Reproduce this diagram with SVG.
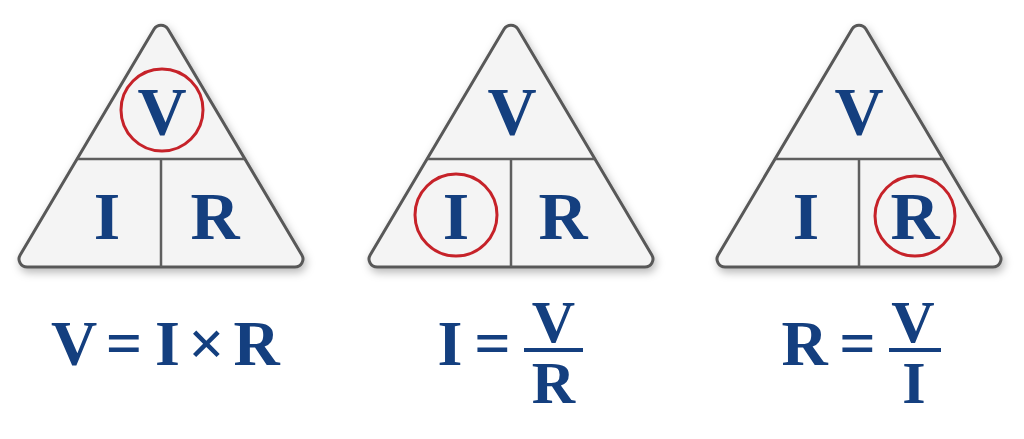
<svg xmlns="http://www.w3.org/2000/svg" width="1024" height="439" viewBox="0 0 1024 439">
<style>
.tri{fill:#f4f4f4;stroke:#585858;stroke-width:3;filter:url(#sh)}
.div{stroke:#5e5e5e;stroke-width:2.5;fill:none}
.lt{font-family:"Liberation Serif","Times New Roman",serif;font-weight:bold;fill:#143f7f;text-anchor:middle}
.big{font-size:68px}
.eq{font-size:64px}
.fr{font-size:60px}
.ring{fill:none;stroke:#c62229;stroke-width:3}
.bar{fill:#143f7f}
</style>
<defs>
<filter id="sh" x="-20%" y="-20%" width="140%" height="140%">
<feDropShadow dx="2" dy="4" stdDeviation="4" flood-color="#000" flood-opacity="0.28"/>
</filter>
<path id="tp" d="M -6.88 29.1 L -140.83 254.9 A 8 8 0 0 0 -133.94 267 L 133.94 267 A 8 8 0 0 0 140.83 254.9 L 6.88 29.1 A 8 8 0 0 0 -6.88 29.1 Z"/>
</defs>
<rect width="1024" height="439" fill="#ffffff"/>

<g id="triangle-v" transform="translate(161,0)">
<use href="#tp" class="tri"/>
<path class="div" d="M -83.5 159 H 83.5 M 0 159 V 267"/>
<text class="lt big" x="1" y="134">V</text>
<text class="lt big" x="-54" y="239">I</text>
<text class="lt big" x="54" y="239">R</text>
<circle class="ring" cx="1" cy="110" r="41"/>
</g>

<g id="triangle-i" transform="translate(511,0)">
<use href="#tp" class="tri"/>
<path class="div" d="M -83.5 159 H 83.5 M 0 159 V 267"/>
<text class="lt big" x="1" y="134">V</text>
<text class="lt big" x="-55" y="239">I</text>
<text class="lt big" x="52" y="239">R</text>
<circle class="ring" cx="-55" cy="215" r="41"/>
</g>

<g id="triangle-r" transform="translate(859,0)">
<use href="#tp" class="tri"/>
<path class="div" d="M -83.5 159 H 83.5 M 0 159 V 267"/>
<text class="lt big" x="0" y="134">V</text>
<text class="lt big" x="-53" y="239">I</text>
<text class="lt big" x="56" y="239">R</text>
<circle class="ring" cx="56" cy="216" r="40"/>
</g>

<g id="formula-v">
<text class="lt eq" y="365"><tspan x="74">V</tspan><tspan x="124">=</tspan><tspan x="167.5">I</tspan><tspan x="206.5">×</tspan><tspan x="256.5">R</tspan></text>
</g>

<g id="formula-i">
<text class="lt eq" y="365"><tspan x="450">I</tspan><tspan x="492.5">=</tspan></text>
<text class="lt fr" x="553.5" y="342">V</text>
<rect class="bar" x="524" y="348" width="59" height="4"/>
<text class="lt fr" x="553.5" y="403">R</text>
</g>

<g id="formula-r">
<text class="lt eq" y="365"><tspan x="804.5">R</tspan><tspan x="857.5">=</tspan></text>
<text class="lt fr" x="913" y="342">V</text>
<rect class="bar" x="889" y="348" width="52" height="4"/>
<text class="lt fr" x="914" y="403">I</text>
</g>
</svg>
